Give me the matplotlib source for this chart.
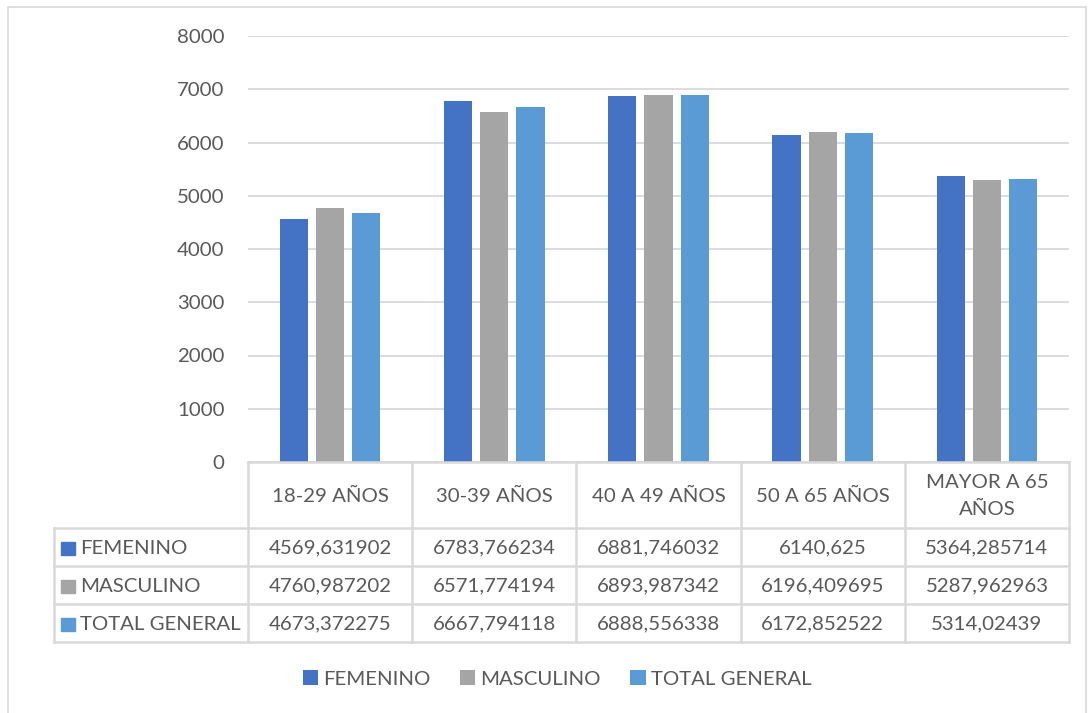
import numpy as np
import matplotlib
matplotlib.use('Agg')
import matplotlib.pyplot as plt
from matplotlib.patches import Rectangle

categorias = ['18-29 AÑOS', '30-39 AÑOS', '40 A 49 AÑOS', '50 A 65 AÑOS', 'MAYOR A 65\nAÑOS']
series = ['FEMENINO', 'MASCULINO', 'TOTAL GENERAL']
femenino = [4569.631902, 6783.766234, 6881.746032, 6140.625, 5364.285714]
masculino = [4760.987202, 6571.774194, 6893.987342, 6196.409695, 5287.962963]
total = [4673.372275, 6667.794118, 6888.556338, 6172.852522, 5314.02439]
textos = [
    ['4569,631902', '6783,766234', '6881,746032', '6140,625', '5364,285714'],
    ['4760,987202', '6571,774194', '6893,987342', '6196,409695', '5287,962963'],
    ['4673,372275', '6667,794118', '6888,556338', '6172,852522', '5314,02439'],
]
colores = ['#4472C4', '#A5A5A5', '#5B9BD5']

plt.rcParams['font.family'] = ['Lato', 'DejaVu Sans']
gris_txt = '#595959'
gris_lin = '#D9D9D9'
fs = 14.7

W, H = 1089, 713
fig = plt.figure(figsize=(W / 100, H / 100), dpi=100)

def px(x0, y0, x1, y1):
    return [x0 / W, 1 - y1 / H, (x1 - x0) / W, (y1 - y0) / H]

# marco del grafico
fig.patches.append(Rectangle((8 / W, -0.01), (1086 - 8) / W, 1 - 7 / H + 0.01,
                             transform=fig.transFigure, fill=False,
                             edgecolor=gris_lin, linewidth=1.2))

ax = fig.add_axes(px(248, 36, 1069, 462))
x = np.arange(len(categorias))
ancho = 0.172
paso = 0.22
for i, vals in enumerate([femenino, masculino, total]):
    ax.bar(x + (i - 1) * paso, vals, ancho, color=colores[i], label=series[i], zorder=3)
ax.set_xlim(-0.5, len(categorias) - 0.5)
ax.set_ylim(0, 8000)
ax.set_yticks(range(0, 8001, 1000))
ax.yaxis.grid(True, color=gris_lin, linewidth=1.3, zorder=0)
ax.tick_params(axis='y', length=0, labelsize=fs, labelcolor=gris_txt, pad=17)
ax.set_xticks([])
for s in ax.spines.values():
    s.set_visible(False)

# tabla de datos
izq = -0.5 - (248 - 54) / 164.2
tab = fig.add_axes(px(54, 462, 1069, 642))
tab.set_xlim(izq, len(categorias) - 0.5)
tab.set_ylim(180, 0)
tab.axis('off')
cab = 66
fila = 38
kw = dict(color=gris_lin, linewidth=1.8, clip_on=False)
tab.plot([-0.5, len(categorias) - 0.5], [0, 0], **kw)
tab.plot([izq, len(categorias) - 0.5], [cab, cab], **kw)
for r in range(1, 4):
    tab.plot([izq, len(categorias) - 0.5], [cab + r * fila] * 2, **kw)
for c in range(len(categorias) + 1):
    tab.plot([c - 0.5] * 2, [0, cab + 3 * fila], **kw)
tab.plot([izq] * 2, [cab, cab + 3 * fila], **kw)

for c, nombre in enumerate(categorias):
    tab.text(c, cab / 2 + 1, nombre, ha='center', va='center', fontsize=fs,
             color=gris_txt, linespacing=1.75)
for r, nombre in enumerate(series):
    yc = cab + (r + 0.5) * fila + 1
    tab.add_patch(Rectangle((izq + 0.045, yc - 6.5), 0.085, 13, color=colores[r], clip_on=False))
    tab.text(izq + 0.16, yc, nombre, ha='left', va='center', fontsize=fs, color=gris_txt)
    for c in range(len(categorias)):
        tab.text(c, yc, textos[r][c], ha='center', va='center', fontsize=fs, color=gris_txt)

fig.legend(*ax.get_legend_handles_labels(), loc='center', ncol=3,
           bbox_to_anchor=(557 / W, 1 - 679 / H), frameon=False, fontsize=fs,
           labelcolor=gris_txt, handlelength=0.75, handleheight=0.75,
           handletextpad=0.25, columnspacing=1.45)

fig.savefig('out.png', dpi=100)
